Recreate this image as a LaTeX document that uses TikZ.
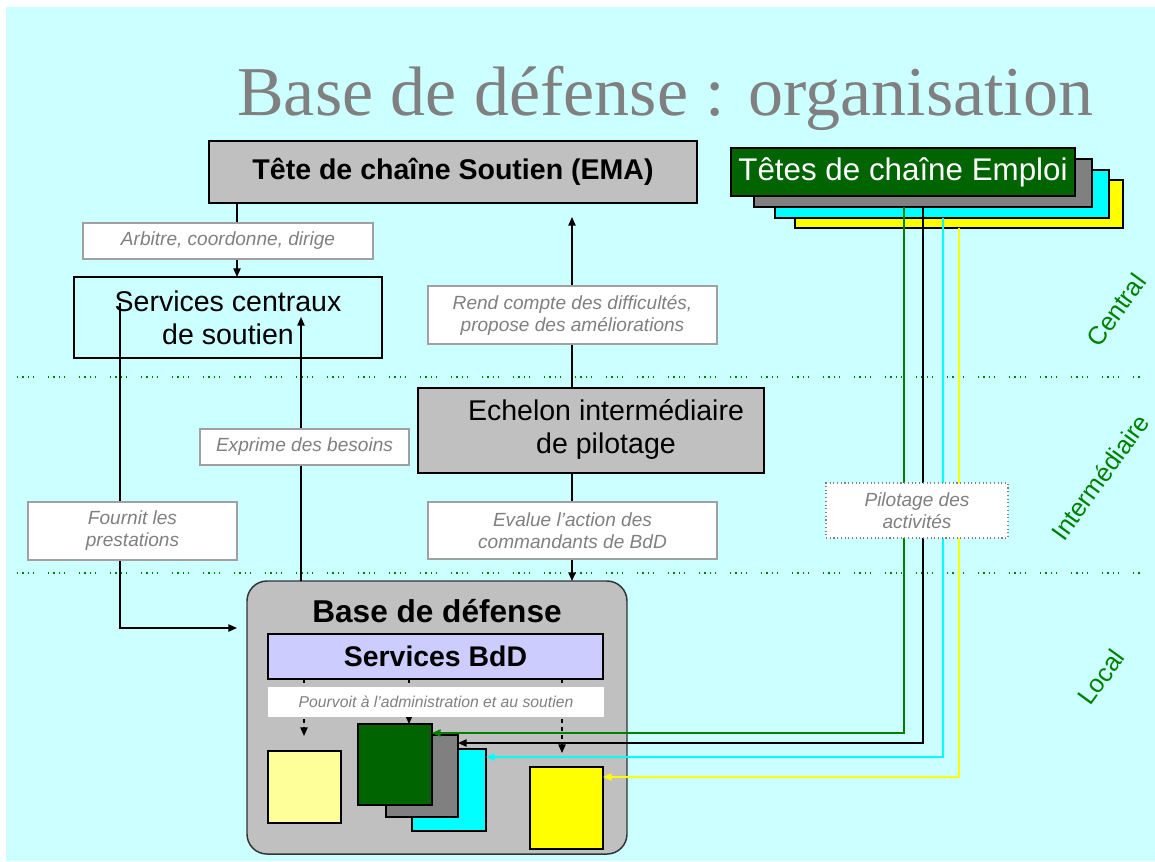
\documentclass[tikz,border=0pt]{standalone}
\usepackage{fontspec}
\setmainfont{Liberation Sans}
\newfontfamily\titlefont{Liberation Serif}
\usetikzlibrary{arrows.meta,calc}
\definecolor{bgcyan}{HTML}{CCFFFF}
\definecolor{boxgray}{HTML}{C0C0C0}
\definecolor{dkgreen}{HTML}{006400}
\definecolor{midgray}{HTML}{808080}
\definecolor{lav}{HTML}{CCCCFF}
\definecolor{paleyel}{HTML}{FFFF99}
\definecolor{lvlgreen}{HTML}{008000}
\definecolor{labgray}{HTML}{808080}
\definecolor{labborder}{HTML}{A0A0A0}
\definecolor{pcyan}{HTML}{00FFFF}
\definecolor{pyellow}{HTML}{FFFF00}
\begin{document}
\begin{tikzpicture}[x=0.75pt,y=-0.75pt,
  sz/.style 2 args={minimum width=#1*0.75pt, minimum height=#2*0.75pt},
  blk/.style={anchor=north west, inner sep=0pt, outer sep=0pt, line width=1.1pt, draw=black, align=center},
  bigtxt/.style={font=\fontsize{21.4pt}{24.75pt}\selectfont},
  bigbold/.style={font=\bfseries\fontsize{21.4pt}{24.75pt}\selectfont},
  lab/.style={blk, draw=labborder, line width=0.8pt, fill=white, text=labgray,
     font=\itshape\fontsize{14.3pt}{16.5pt}\selectfont},
  lvl/.style={text=lvlgreen, font=\fontsize{19pt}{23pt}\selectfont, inner sep=0pt},
  arr/.style={-{Triangle[length=6.5pt,width=5.5pt]}, line width=1.1pt},
  carr/.style={-{Triangle[length=6.5pt,width=5.5pt]}, line width=1.1pt},
  darr/.style={-{Triangle[length=6.5pt,width=5.5pt]}, line width=1.1pt, dash pattern=on 3pt off 3pt},
  sep/.style={draw=lvlgreen, line width=1.6pt, dash pattern=on 1pt off 3pt on 1pt off 3pt on 1pt off 3pt on 1pt off 10.25pt}
]
\useasboundingbox (0,0) rectangle (1155,861);
\fill[white] (0,0) rectangle (1155,861);
\fill[bgcyan] (6,7) rectangle (1155,861);

% title
\node[anchor=base west, inner sep=0pt, text=midgray, font=\titlefont\fontsize{52.5pt}{60pt}\selectfont] (title) at (237,115) {Base de défense : organisation};

% separators
\draw[sep] (17,377) -- (1142,377);
\draw[sep] (17,573) -- (1142,573);

% level labels
\node[lvl, rotate=54] (lc) at (1116,310) {Central};
\node[lvl, rotate=54] (li) at (1100,477) {Intermédiaire};
\node[lvl, rotate=54] (ll) at (1101,677) {Local};

% main boxes
\node[blk, fill=boxgray, sz={488}{62}, bigbold] (ema) at (209,141) {Tête de chaîne Soutien (EMA)};

\node[blk, fill=pyellow, sz={328}{48}] (eyel) at (795,180) {};
\node[blk, fill=pcyan, sz={334}{48}] (ecyan) at (775,170) {};
\node[blk, fill=midgray, sz={338}{48}] (egray) at (754,159) {};
\node[blk, fill=dkgreen, sz={344}{48}, text=white, font=\fontsize{23.5pt}{28pt}\selectfont] (egreen) at (731,148) {Têtes de chaîne Emploi};

\node[blk, sz={308}{81}, bigtxt] (sc) at (74,277) {Services centraux\\de soutien};

\node[blk, fill=boxgray, sz={346}{85}] (ech) at (418,388) {};
\node[bigtxt, align=center, inner sep=0pt] (echt) at ($(ech.center)+(15,-1)$) {Echelon intermédiaire\\de pilotage};

\node[blk, fill=boxgray, draw=black!80, rounded corners=15pt, sz={380}{273}] (bdd) at (247,581) {};
\node[anchor=base, inner sep=0pt, font=\bfseries\fontsize{23.7pt}{28pt}\selectfont] (bddt) at (437,622) {Base de défense};
\node[blk, fill=lav, sz={335}{45}, font=\bfseries\fontsize{21.3pt}{25pt}\selectfont] (sbdd) at (268,634) {Services BdD};

% squares
\node[blk, fill=paleyel, sz={73}{72}] (sly) at (268,751) {};
\node[blk, fill=pcyan, sz={74}{82}] (scy) at (412,749) {};
\node[blk, fill=midgray, sz={72}{82}] (sgr) at (386,735) {};
\node[blk, fill=dkgreen, sz={74}{81}] (sdg) at (358,724) {};
\node[blk, fill=pyellow, sz={73}{82}] (sye) at (530,767) {};

% coordinates for connectors
\coordinate (a0) at (237,0);
\coordinate (f0) at (120,303);
\coordinate (f1) at (237,628);
\coordinate (e1) at (301,317);
\coordinate (r1) at (572,217);
\coordinate (d1) at (304,736);
\coordinate (d2) at (409,0);
\coordinate (d3) at (562,753);
\coordinate (xg) at (904,733);
\coordinate (xk) at (923,743);
\coordinate (xc) at (943,757);
\coordinate (xy) at (959,777);

% connectors
\draw[arr] (ema.south -| a0) -- (sc.north -| a0);
\draw[arr] (f0) |- (f1);
\draw[arr] (bdd.north -| e1) -- (e1);
\draw[arr] (ech.north -| r1) -- (r1);
\draw[arr] (ech.south -| r1) -- (bdd.north -| r1);

\draw[darr] (sbdd.south -| d1) -- (d1);
\draw[darr] (sbdd.south -| d2) -- (sdg.north -| d2);
\draw[darr] (sbdd.south -| d3) -- (d3);

\draw[carr, lvlgreen] (egray.south -| xg) |- (sdg.east |- xg);
\draw[carr, black] (egray.south -| xk) |- (sgr.east |- xk);
\draw[carr, pcyan] (ecyan.south -| xc) |- (scy.east |- xc);
\draw[carr, pyellow] (eyel.south -| xy) |- (sye.east |- xy);

% labels
\node[lab, sz={290}{36}] (larb) at (83,223) {Arbitre, coordonne, dirige};
\node[lab, sz={209}{58}] (lfou) at (28,502) {Fournit les\\prestations};
\node[lab, sz={209}{36}] (lexp) at (200,429) {Exprime des besoins};
\node[lab, sz={289}{58}] (lrend) at (428,286) {Rend compte des difficultés,\\propose des améliorations};
\node[lab, sz={289}{57}] (leval) at (428,502) {Evalue l’action des\\commandants de BdD};
\node[lab, draw=gray, dotted, sz={182}{55}] (lpil) at (826,483) {Pilotage des\\activités};
\node[lab, draw=none, sz={336}{30}, font=\itshape\fontsize{11.8pt}{14pt}\selectfont] (lpour) at (268,687) {Pourvoit à l’administration et au soutien};
\end{tikzpicture}
\end{document}
